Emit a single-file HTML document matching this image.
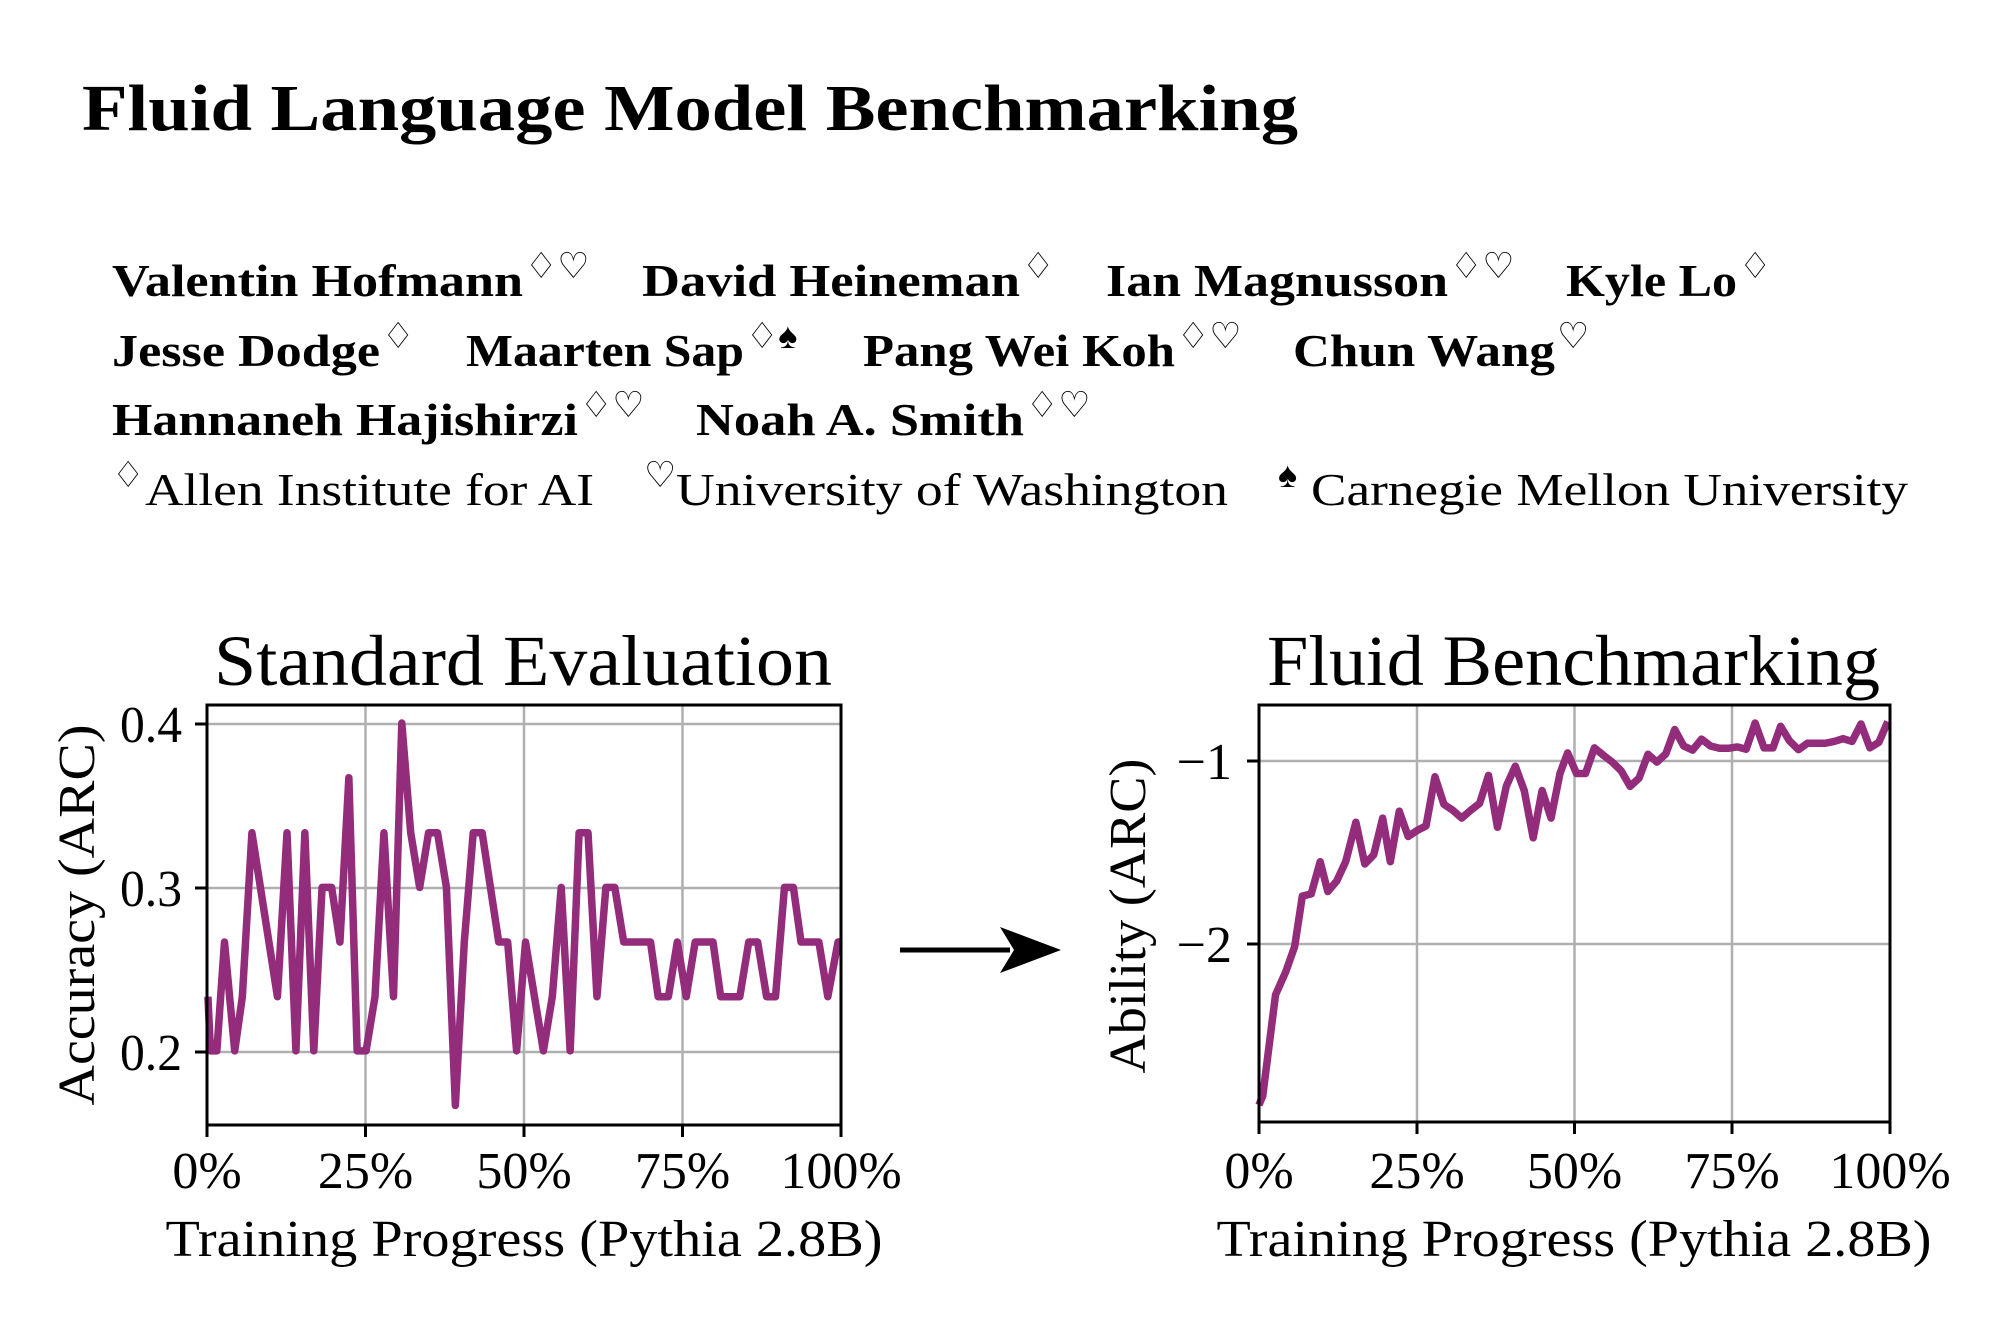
<!DOCTYPE html>
<html><head><meta charset="utf-8"><style>
html,body{margin:0;padding:0;background:#fff;}
svg{display:block;}
text{font-family:"Liberation Serif",serif;fill:#000;}
.b{font-weight:bold;font-size:46px;}
.r{font-size:46px;}
.s{font-size:36px;}
</style></head><body>
<svg width="2000" height="1320" viewBox="0 0 2000 1320" xmlns="http://www.w3.org/2000/svg">
<rect width="2000" height="1320" fill="#fff"/>
<text x="82" y="130" font-size="66" font-weight="bold" textLength="1216" lengthAdjust="spacingAndGlyphs">Fluid Language Model Benchmarking</text>

<text class="b" x="112" y="296" textLength="411" lengthAdjust="spacingAndGlyphs">Valentin Hofmann</text><text class="s" x="525" y="278">♢♡</text>
<text class="b" x="642" y="296" textLength="378" lengthAdjust="spacingAndGlyphs">David Heineman</text><text class="s" x="1022" y="278">♢</text>
<text class="b" x="1106" y="296" textLength="342" lengthAdjust="spacingAndGlyphs">Ian Magnusson</text><text class="s" x="1450" y="278">♢♡</text>
<text class="b" x="1566" y="296" textLength="171" lengthAdjust="spacingAndGlyphs">Kyle Lo</text><text class="s" x="1739" y="278">♢</text>

<text class="b" x="112" y="366" textLength="268" lengthAdjust="spacingAndGlyphs">Jesse Dodge</text><text class="s" x="382" y="348">♢</text>
<text class="b" x="466" y="366" textLength="278" lengthAdjust="spacingAndGlyphs">Maarten Sap</text><text class="s" x="746" y="348">♢♠</text>
<text class="b" x="863" y="366" textLength="312" lengthAdjust="spacingAndGlyphs">Pang Wei Koh</text><text class="s" x="1177" y="348">♢♡</text>
<text class="b" x="1293" y="366" textLength="262" lengthAdjust="spacingAndGlyphs">Chun Wang</text><text class="s" x="1557" y="348">♡</text>

<text class="b" x="112" y="435" textLength="466" lengthAdjust="spacingAndGlyphs">Hannaneh Hajishirzi</text><text class="s" x="580" y="417">♢♡</text>
<text class="b" x="696" y="435" textLength="328" lengthAdjust="spacingAndGlyphs">Noah A. Smith</text><text class="s" x="1026" y="417">♢♡</text>

<text class="s" x="112" y="487">♢</text><text class="r" x="145" y="505" textLength="449" lengthAdjust="spacingAndGlyphs">Allen Institute for AI</text>
<text class="s" x="644" y="487">♡</text><text class="r" x="676" y="505" textLength="552" lengthAdjust="spacingAndGlyphs">University of Washington</text>
<text class="s" x="1278" y="487">♠</text><text class="r" x="1311" y="505" textLength="597" lengthAdjust="spacingAndGlyphs">Carnegie Mellon University</text>

<!-- Left plot -->
<text x="214" y="685" font-size="72" textLength="618" lengthAdjust="spacingAndGlyphs">Standard Evaluation</text>
<g stroke="#b0b0b0" stroke-width="2.5">
<line x1="365.5" y1="705" x2="365.5" y2="1125"/><line x1="524" y1="705" x2="524" y2="1125"/><line x1="682.5" y1="705" x2="682.5" y2="1125"/>
<line x1="207" y1="724" x2="841" y2="724"/><line x1="207" y1="888" x2="841" y2="888"/><line x1="207" y1="1052" x2="841" y2="1052"/>
</g>
<g transform="translate(0,600) scale(0.63776,0.45914)">
<polyline fill="none" stroke="#932c7a" stroke-width="7.5" stroke-linejoin="round" vector-effect="non-scaling-stroke" points="326,864 330,982 340,982 352,745 368,982 380,864 395,507 435,864 450,507 464,982 478,507 492,982 505,626 520,626 533,745 547,387 560,982 574,982 588,864 602,507 617,864 630,268 644,507 658,626 672,507 686,507 700,626 714,1101 728,745 742,507 756,507 782,745 796,745 810,982 824,745 852,982 866,864 880,626 894,982 908,507 922,507 936,864 950,626 964,626 978,745 1020,745 1032,864 1048,864 1062,745 1076,864 1090,745 1118,745 1130,864 1160,864 1174,745 1188,745 1202,864 1216,864 1230,626 1244,626 1256,745 1284,745 1298,864 1314,745 1320,745"/>
</g>
<rect x="207" y="705" width="634" height="420" fill="none" stroke="#000" stroke-width="3"/>
<g stroke="#000" stroke-width="3">
<line x1="207" y1="1125" x2="207" y2="1137"/><line x1="365.5" y1="1125" x2="365.5" y2="1137"/><line x1="524" y1="1125" x2="524" y2="1137"/><line x1="682.5" y1="1125" x2="682.5" y2="1137"/><line x1="841" y1="1125" x2="841" y2="1137"/>
<line x1="195" y1="724" x2="207" y2="724"/><line x1="195" y1="888" x2="207" y2="888"/><line x1="195" y1="1052" x2="207" y2="1052"/>
</g>
<g text-anchor="end" font-size="52">
<text x="182" y="742" textLength="62" lengthAdjust="spacingAndGlyphs">0.4</text><text x="182" y="906" textLength="62" lengthAdjust="spacingAndGlyphs">0.3</text><text x="182" y="1070" textLength="62" lengthAdjust="spacingAndGlyphs">0.2</text>
</g>
<g text-anchor="middle" font-size="52">
<text x="207" y="1188">0%</text><text x="365.5" y="1188">25%</text><text x="524" y="1188">50%</text><text x="682.5" y="1188">75%</text><text x="841" y="1188">100%</text>
<text x="524" y="1256" textLength="717" lengthAdjust="spacingAndGlyphs">Training Progress (Pythia 2.8B)</text>
<text transform="translate(94,915) rotate(-90)" textLength="381" lengthAdjust="spacingAndGlyphs">Accuracy (ARC)</text>
</g>

<!-- Arrow -->
<line x1="900" y1="950" x2="1010" y2="950" stroke="#000" stroke-width="5"/>
<polygon points="1061,950 1000,927 1014,950 1000,973" fill="#000"/>

<!-- Right plot -->
<text x="1267" y="685" font-size="72" textLength="613" lengthAdjust="spacingAndGlyphs">Fluid Benchmarking</text>
<g stroke="#b0b0b0" stroke-width="2.5">
<line x1="1417" y1="705" x2="1417" y2="1122"/><line x1="1574.5" y1="705" x2="1574.5" y2="1122"/><line x1="1732" y1="705" x2="1732" y2="1122"/>
<line x1="1259" y1="761" x2="1890" y2="761"/><line x1="1259" y1="944" x2="1890" y2="944"/>
</g>
<g transform="translate(1000,600) scale(0.63776,0.45914)">
<polyline fill="none" stroke="#932c7a" stroke-width="7.5" stroke-linejoin="round" vector-effect="non-scaling-stroke" points="406,1100 412,1080 432,860 448,810 462,755 474,645 488,640 502,570 514,635 528,612 542,570 558,484 572,575 586,555 600,475 612,570 626,460 640,515 654,502 668,492 682,385 696,445 710,458 724,475 738,458 752,443 766,382 780,495 794,405 808,362 822,415 836,518 850,415 864,475 878,378 890,333 904,378 918,378 932,322 946,338 960,353 974,372 988,406 1002,388 1016,336 1030,353 1044,335 1058,282 1072,318 1086,327 1100,303 1114,318 1128,323 1142,323 1156,320 1170,325 1184,268 1198,322 1212,322 1224,275 1238,307 1252,326 1266,312 1280,312 1294,312 1308,308 1322,302 1336,308 1350,270 1364,322 1378,310 1392,265"/>
</g>
<rect x="1259" y="705" width="631" height="417" fill="none" stroke="#000" stroke-width="3"/>
<g stroke="#000" stroke-width="3">
<line x1="1259" y1="1122" x2="1259" y2="1134"/><line x1="1417" y1="1122" x2="1417" y2="1134"/><line x1="1574.5" y1="1122" x2="1574.5" y2="1134"/><line x1="1732" y1="1122" x2="1732" y2="1134"/><line x1="1890" y1="1122" x2="1890" y2="1134"/>
<line x1="1247" y1="761" x2="1259" y2="761"/><line x1="1247" y1="944" x2="1259" y2="944"/>
</g>
<g text-anchor="end" font-size="52">
<text x="1232" y="779">−1</text><text x="1232" y="962">−2</text>
</g>
<g text-anchor="middle" font-size="52">
<text x="1259" y="1188">0%</text><text x="1417" y="1188">25%</text><text x="1574.5" y="1188">50%</text><text x="1732" y="1188">75%</text><text x="1890" y="1188">100%</text>
<text x="1574" y="1256" textLength="715" lengthAdjust="spacingAndGlyphs">Training Progress (Pythia 2.8B)</text>
<text transform="translate(1145,916) rotate(-90)" textLength="315" lengthAdjust="spacingAndGlyphs">Ability (ARC)</text>
</g>
</svg>
</body></html>
